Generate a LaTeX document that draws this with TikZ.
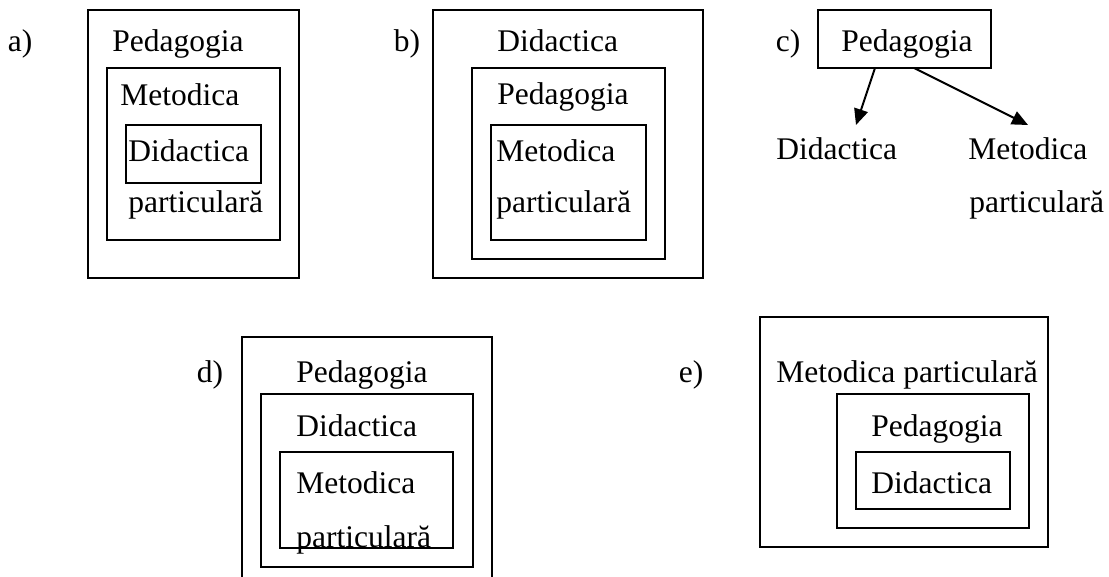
\documentclass[tikz,border=0pt]{standalone}
\usepackage{fontspec}
\setmainfont{Liberation Serif}
\usetikzlibrary{arrows.meta}
\begin{document}
\begin{tikzpicture}[x=0.5pt,y=-0.5pt,
  frame/.style={draw=black,line width=1pt},
  word/.style={inner sep=0pt,anchor=base west,font=\fontsize{15.75pt}{18pt}\selectfont},
  tag/.style={inner sep=0pt,anchor=base,font=\fontsize{15.75pt}{18pt}\selectfont},
  link/.style={line width=1pt,-{Triangle[length=8pt,width=7pt]}}]
\useasboundingbox (0,0) rectangle (1109,577);

% a) Pedagogia > Metodica > Didactica particulara
\node[tag] (la) at (20,52) {a)};
\draw[frame] (88,10) rectangle (299,278);
\draw[frame] (107,68) rectangle (280,240);
\draw[frame] (126,125) rectangle (261,183);
\node[word] (a1) at (112,52) {Pedagogia};
\node[word] (a2) at (120,106) {Metodica};
\node[word] (a3) at (128,162) {Didactica};
\node[word] (a4) at (128,213) {particulară};

% b) Didactica > Pedagogia > Metodica particulara
\node[tag] (lb) at (407,52) {b)};
\draw[frame] (433,10) rectangle (703,278);
\draw[frame] (472,68) rectangle (665,259);
\draw[frame] (491,125) rectangle (646,240);
\node[word] (b1) at (497,52) {Didactica};
\node[word] (b2) at (497,105) {Pedagogia};
\node[word] (b3) at (496,162) {Metodica};
\node[word] (b4) at (496,213) {particulară};

% c) Pedagogia branching into two disciplines
\node[tag] (lc) at (788,52) {c)};
\draw[frame] (818,10) rectangle (991,68);
\node[word] (c0) at (841,52) {Pedagogia};
\node[word] (c1) at (776,160) {Didactica};
\node[word] (c2) at (968,160) {Metodica};
\node[word] (c3) at (969,213) {particulară};
\coordinate (cs1) at (875,68);
\coordinate (ce1) at (856,125);
\coordinate (cs2) at (914,68);
\coordinate (ce2) at (1028,125);
\draw[link] (cs1) -- (ce1);
\draw[link] (cs2) -- (ce2);

% d) Pedagogia > Didactica > Metodica particulara
\node[tag] (ld) at (210,382) {d)};
\draw[frame] (242,580) -- (242,337) -- (492,337) -- (492,580);
\draw[frame] (261,394) rectangle (473,567);
\draw[frame] (280,452) rectangle (453,548);
\node[word] (d1) at (296,382) {Pedagogia};
\node[word] (d2) at (296,437) {Didactica};
\node[word] (d3) at (296,493) {Metodica};
\node[word] (d4) at (296,547) {particulară};

% e) Metodica particulara > Pedagogia > Didactica
\node[tag] (le) at (691,382) {e)};
\draw[frame] (760,317) rectangle (1048,547);
\draw[frame] (837,394) rectangle (1029,528);
\draw[frame] (856,452) rectangle (1010,509);
\node[word] (e1) at (776,382) {Metodica particulară};
\node[word] (e2) at (871,437) {Pedagogia};
\node[word] (e3) at (871,493) {Didactica};
\end{tikzpicture}
\end{document}
